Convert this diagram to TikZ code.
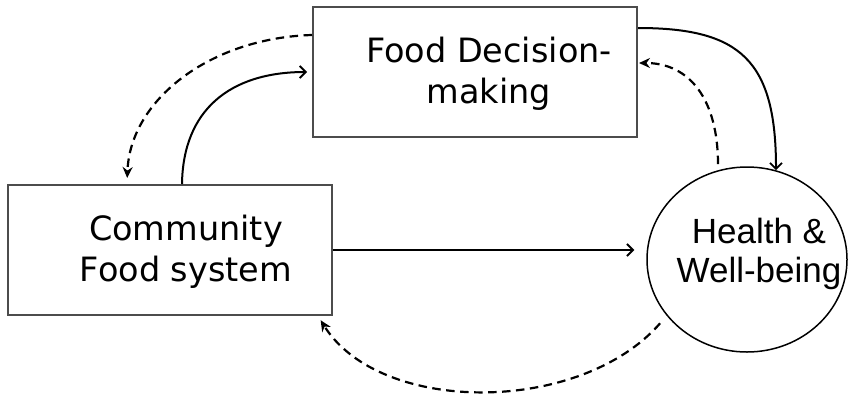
\documentclass[tikz,border=0pt]{standalone}
\usepackage{fontspec}
\setmainfont{DejaVu Sans}
\newfontfamily\arialfont{Liberation Sans}
\usetikzlibrary{arrows.meta,shapes.geometric}

\begin{document}
\begin{tikzpicture}[x=1pt,y=-1pt]
\tikzset{box/.style={draw=black!70,line width=2pt,minimum width=324pt,minimum height=130pt,inner sep=0pt}}
\tikzset{boxtext/.style={font=\fontsize{33.5}{41}\selectfont,align=center,inner sep=0pt}}
\tikzset{circtext/.style={font=\arialfont\fontsize{35}{39}\selectfont,align=center,inner sep=0pt}}
\tikzset{solidarrow/.style={line width=2pt,-{Straight Barb[length=6pt,width=12pt,line width=1.8pt]}}}
\tikzset{dasharrow/.style={line width=2.2pt,dash pattern=on 8.5pt off 5.5pt,-{Stealth[length=11pt,width=10pt]}}}

\useasboundingbox (0,0) rectangle (850,397);

\node[box] (fdm) at (475,72) {};
\node[box] (cfs) at (170,250) {};
\node[draw,ellipse,line width=1.5pt,minimum width=200pt,minimum height=185pt,inner sep=0pt] (hw) at (747,259.5) {};

\node[boxtext] (fdmtext) at (489,74) {Food Decision-\\making};
\node[boxtext] (cfstext) at (186,252) {Community\\Food system};
\node[circtext] (hwtext) at (759,253.5) {Health \&\\Well-being};

\draw[solidarrow,shorten >=5pt] ([xshift=175pt]cfs.north west) .. controls (183,110) and (230,72) .. (fdm.west);
\draw[dasharrow,shorten >=6pt] ([yshift=37pt]fdm.west) .. controls (210,38) and (130,100) .. ([xshift=120pt]cfs.north west);
\draw[solidarrow] ([yshift=44pt]fdm.east) .. controls (740,28) and (776,60) .. (hw.72);
\draw[dasharrow,shorten <=6pt,shorten >=1pt] (hw.108) .. controls (718,100) and (690,63) .. ([yshift=9pt]fdm.east);
\draw[solidarrow,shorten >=12pt] (cfs.east) -- (cfs.east -| hw.west);
\draw[dasharrow,shorten <=10pt,shorten >=5pt] (hw.215) .. controls (580,415) and (380,415) .. ([xshift=-15pt]cfs.south east);

\end{tikzpicture}
\end{document}
